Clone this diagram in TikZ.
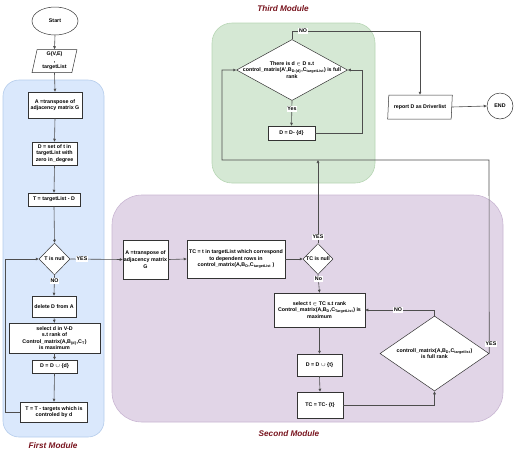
\documentclass[tikz,border=0pt]{standalone}
\usepackage{fontspec}
\setmainfont{Liberation Sans}
\usetikzlibrary{arrows.meta,shapes.geometric}
\definecolor{conc}{HTML}{4D4D4D}
\definecolor{boxc}{HTML}{333333}
\definecolor{bluef}{HTML}{DAE8FC}
\definecolor{blued}{HTML}{B5CCEB}
\definecolor{greenf}{HTML}{D5E8D4}
\definecolor{greend}{HTML}{B7D6B4}
\definecolor{purpf}{HTML}{E1D5E7}
\definecolor{purpd}{HTML}{C9B6D3}
\definecolor{modc}{RGB}{120,20,30}
\newcommand\diagtxt{\fontsize{5.3}{6.6}\selectfont\bfseries}
\newcommand\modtxt{\fontsize{8.2}{9}\selectfont\bfseries\itshape}
\newcommand\sbs[1]{\textsubscript{#1}}
\tikzset{
  base/.style={draw=boxc, fill=white, line width=0.5pt, inner sep=0pt, align=center, font=\diagtxt},
  box/.style={base, rectangle},
  dia/.style={base, diamond},
  para/.style={base, trapezium, trapezium left angle=79, trapezium right angle=101, trapezium stretches=true},
  txtonly/.style={inner sep=0pt, align=center, font=\diagtxt},
  conn/.style={draw=conc, line width=0.6pt, -{Triangle[length=3pt,width=2.6pt]}},
  plain/.style={draw=conc, line width=0.6pt},
  lbl/.style={fill=white, inner sep=0.8pt, font=\diagtxt},
  region/.style={line width=0.6pt},
  modlbl/.style={font=\modtxt, text=modc, inner sep=0pt}
}
\begin{document}
\begin{tikzpicture}[x=1pt,y=-1pt]
\useasboundingbox (0,0) rectangle (520,451);
% regions
\draw[region, draw=blued, fill=bluef, rounded corners=16pt] (3,80) rectangle (104,437);
\draw[region, draw=greend, fill=greenf, rounded corners=20pt] (212,23) rectangle (375,183);
\draw[region, draw=purpd, fill=purpf, rounded corners=30pt] (112,195) rectangle (503,422);
\node[modlbl] (m1) at (53,446) {First Module};
\node[modlbl] (m2) at (289,434) {Second Module};
\node[modlbl] (m3) at (283,9) {Third Module};
% first module nodes
\node[base, ellipse, minimum width=46pt, minimum height=28pt] (start) at (55,21) {Start};
\node[para, minimum width=45pt, minimum height=23pt] (gve) at (54.5,61) {G(V,E)\\,\\targetList};
\node[box, minimum width=54pt, minimum height=26pt] (a1) at (55,105) {A =transpose of\\adjacency matrix G};
\node[box, minimum width=45pt, minimum height=23pt] (d1) at (54.5,153.5) {D = set of t in\\targetList with\\zero in\_degree};
\node[box, minimum width=52pt, minimum height=13pt] (t1) at (54,199.5) {T = targetList - D};
\node[dia, minimum width=31pt, minimum height=32pt] (tnull) at (54.5,259) {};
\node[txtonly] (tnullt) at (tnull.center) {T is null};
\node[box, minimum width=44pt, minimum height=21pt] (del) at (54,306.5) {delete D from A};
\node[box, minimum width=91pt, minimum height=30pt] (sel) at (54.5,338) {select d in V-D\\s.t rank of\\Control\_matrix(A,B\sbs{\{d\}},C\sbs{T})\\is maximum};
\node[box, minimum width=45pt, minimum height=13pt] (dd) at (54.5,366.5) {D = D $\cup$ \{d\}};
\node[box, minimum width=67pt, minimum height=20pt] (tt) at (54,412) {T = T - targets which is\\controled by d};
% second module nodes
\node[box, minimum width=45pt, minimum height=39pt] (a2) at (145.5,259.5) {A =transpose of\\adjacency matrix\\G};
\node[box, minimum width=98pt, minimum height=38pt] (tc) at (236,259) {TC = t in targetList which correspond\\to dependent rows in\\control\_matrix(A,B\sbs{D},C\sbs{targetList} )};
\node[dia, minimum width=30pt, minimum height=31pt] (tcnull) at (318,259) {};
\node[txtonly] (tcnullt) at (tcnull.center) {TC is null};
\node[box, minimum width=91pt, minimum height=34pt] (selt) at (319.5,310) {select t $\in$ TC s.t rank\\Control\_matrix(A,B\sbs{D},C\sbs{TargetList}) is\\maximum};
\node[box, minimum width=45pt, minimum height=22pt] (ddt) at (319.5,365) {D = D $\cup$ \{t\}};
\node[box, minimum width=46pt, minimum height=26pt] (tct) at (320,405) {TC = TC- \{t\}};
\node[dia, minimum width=109pt, minimum height=75pt] (ctrl) at (434.5,353.5) {};
\node[txtonly] (ctrlt) at (ctrl.center) {controll\_matrix(A,B\sbs{D},C\sbs{targetlist})\\is full rank};
% third module nodes
\node[dia, minimum width=111pt, minimum height=61pt] (dia3) at (292,70) {};
\node[txtonly] (dia3t) at (dia3.center) {There is d $\in$ D s.t\\control\_matrix(A',B\sbs{D-\{d\}},C\sbs{targetList}) is full\\rank};
\node[box, minimum width=47pt, minimum height=14pt] (ddm) at (291.5,133) {D = D- \{d\}};
\node[para, minimum width=65pt, minimum height=24pt] (report) at (420,107) {report D as Driverlist};
\node[base, circle, minimum size=26pt] (end) at (500,106) {END};
% junctions
\coordinate (jr) at (489,160);
\coordinate (jl) at (222,160);
\coordinate (jn) at (292,31);
% connectors first module
\draw[conn] (start.south) -- (gve.north);
\draw[conn] (gve.south) -- (a1.north);
\draw[conn] (a1.south) -- (d1.north);
\draw[conn] (d1.south) -- (t1.north);
\draw[conn] (t1.south) -- (tnull.north);
\draw[conn] (tnull.south) -- (del.north);
\draw[conn] (del.south) -- (sel.north);
\draw[conn] (sel.south) -- (dd.north);
\draw[conn] (dd.south) -- (tt.north);
\draw[conn] (tt.west) -- ++(-15,0) |- (tnull.west);
\draw[conn] (tnull.east) -- (a2.west);
% connectors second module
\draw[conn] (a2.east) -- (tc.west);
\draw[conn] (tc.east) -- (tcnull.west);
\draw[conn] (tcnull.south) -- (selt.north);
\draw[conn] (tcnull.north) -- (tcnull.north |- jr);
\draw[conn] (selt.south) -- (ddt.north);
\draw[conn] (ddt.south) -- (tct.north);
\draw[conn] (tct.east) -| (ctrl.south);
\draw[conn] (ctrl.north) |- (selt.east);
\draw[conn] (ctrl.east) -- (jr) -- (jl) |- (dia3.west);
% connectors third module
\draw[conn] (dia3.south) -- (ddm.north);
\draw[conn] (ddm.east) -- ++(47,0) |- (dia3.east);
\draw[conn] (dia3.north) -- (jn) -| (report.north);
\draw[conn] (report.east) -- (end.west);
% labels
\node[lbl] (l1) at (82,259) {YES};
\node[lbl] (l2) at (54.5,281) {NO};
\node[lbl] (l3) at (318,237) {YES};
\node[lbl] (l4) at (318.5,279) {No};
\node[lbl] (l5) at (398,310) {NO};
\node[lbl] (l6) at (491,344) {YES};
\node[lbl] (l7) at (303,31) {NO};
\node[lbl] (l8) at (292,109) {Yes};
\end{tikzpicture}
\end{document}
